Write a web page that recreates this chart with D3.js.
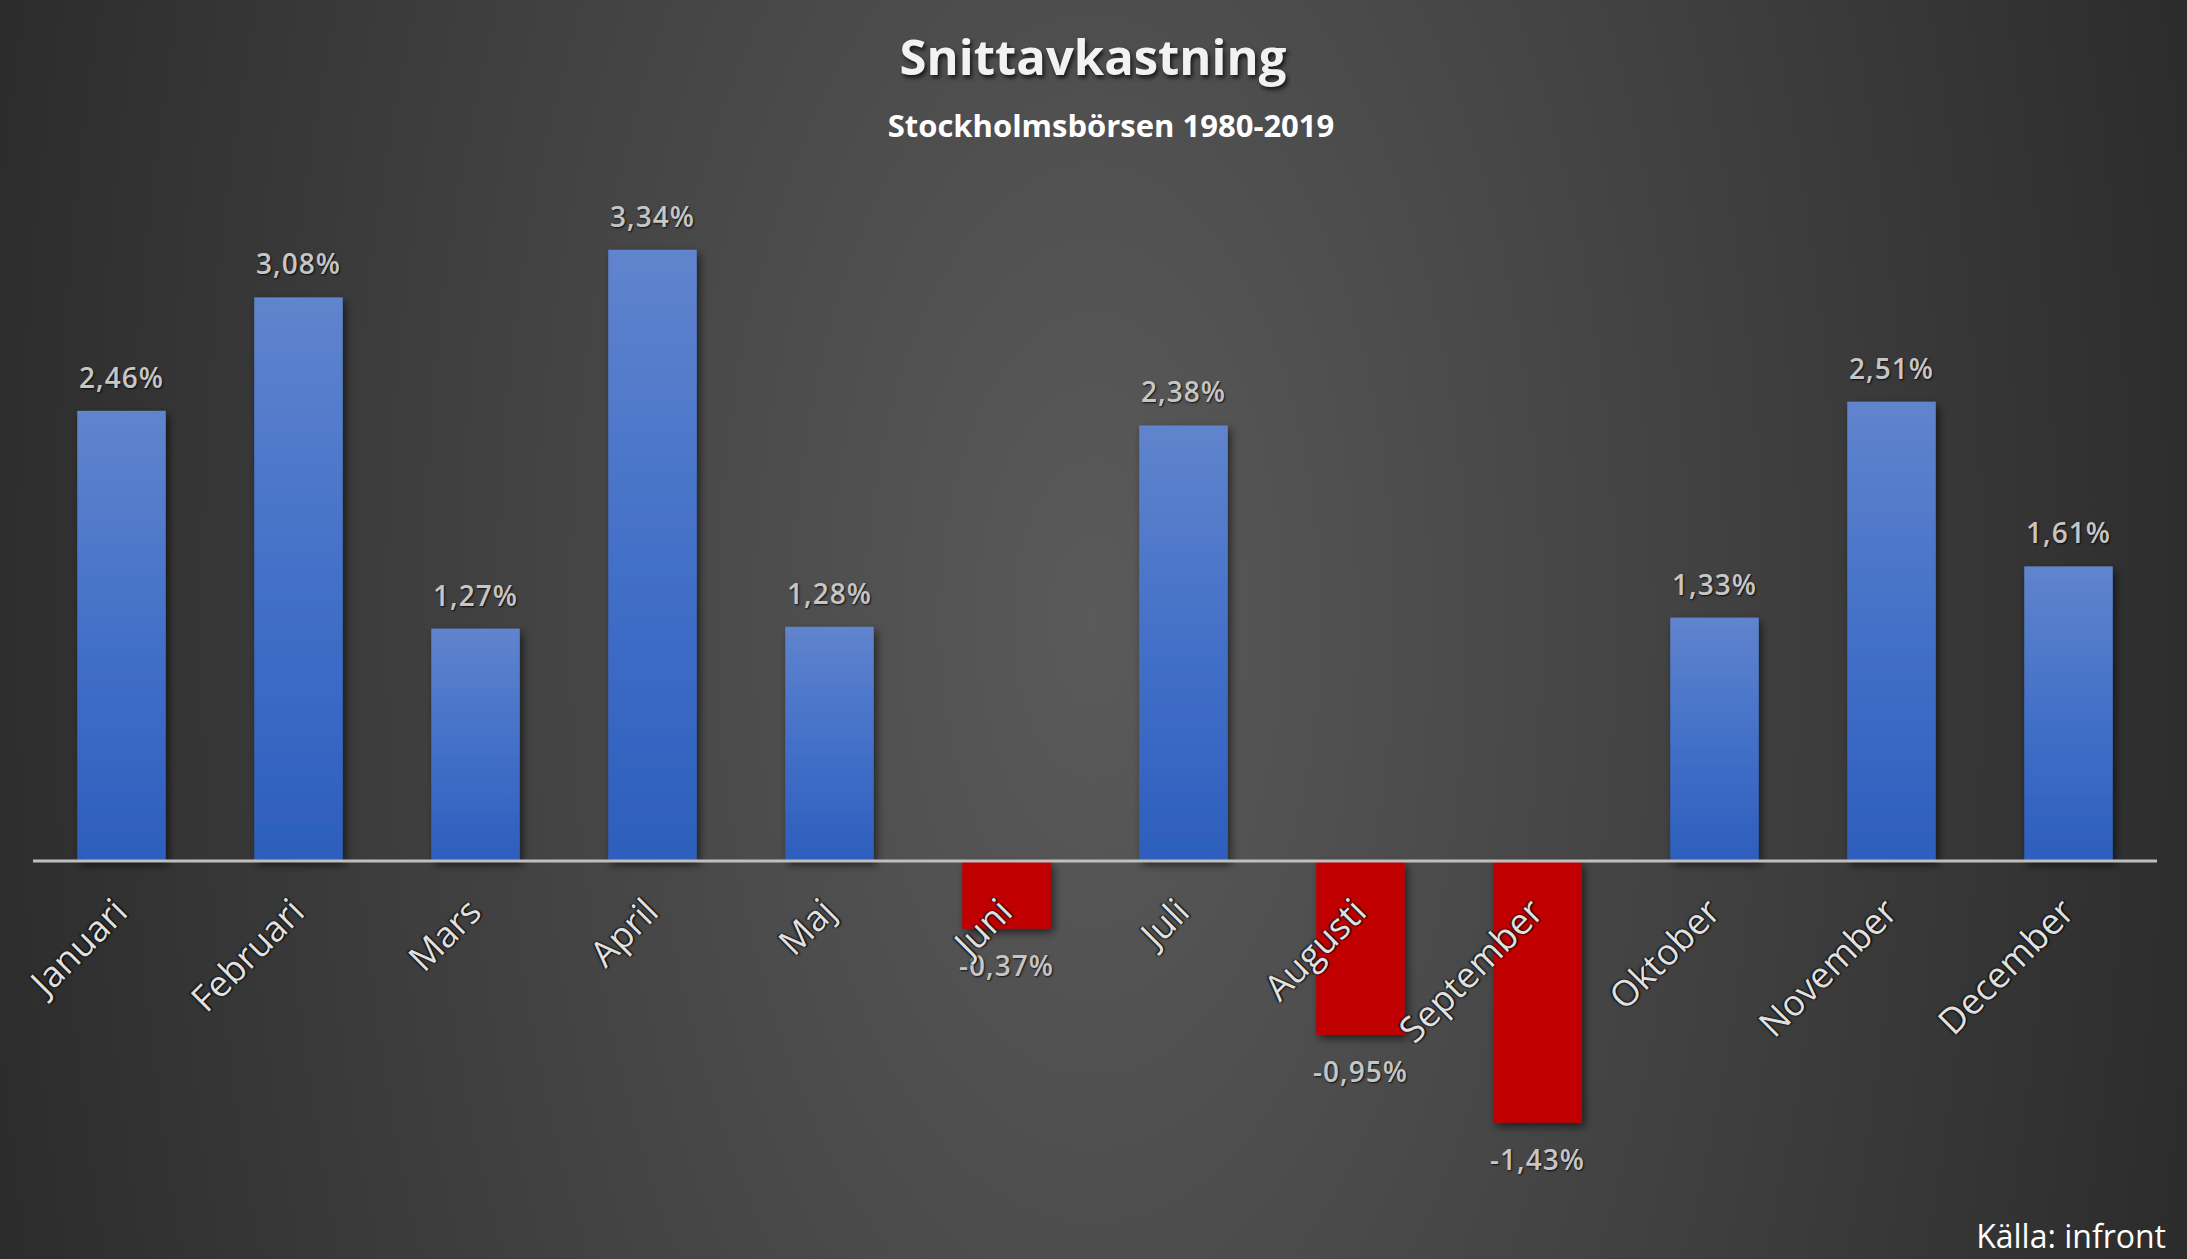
<!DOCTYPE html>
<meta charset="utf-8">
<script src="https://d3js.org/d3.v7.min.js"></script>
<style>
  body { margin: 0; background: #262626; }
  text { font-family: "Open Sans", "Noto Sans", sans-serif; }
</style>
<div id="my_dataviz"></div>
<script>

    // data
    var months = ["Januari", "Februari", "Mars", "April", "Maj", "Juni",
                  "Juli", "Augusti", "September", "Oktober", "November", "December"];
    var values = [2.46, 3.08, 1.27, 3.34, 1.28, -0.37, 2.38, -0.95, -1.43, 1.33, 2.51, 1.61];
    var title = "Snittavkastning";
    var subtitle = "Stockholmsbörsen 1980-2019";
    var source = "Källa: infront";

    // dimensions
    var width = 2187, height = 1259;

    var svg = d3.select("#my_dataviz")
      .append("svg")
        .attr("width", width)
        .attr("height", height);

    var defs = svg.append("defs");

    // background: dark vignette, lighter in the middle
    var bg = defs.append("radialGradient")
        .attr("id", "bg")
        .attr("gradientUnits", "userSpaceOnUse")
        .attr("cx", 0).attr("cy", 0).attr("r", 1)
        .attr("gradientTransform", "translate(1093,620) scale(1300,2600)");
    bg.append("stop").attr("offset", "0").attr("stop-color", "#5a5a5a");
    bg.append("stop").attr("offset", "1").attr("stop-color", "#252525");

    // blue bar fill
    var blue = defs.append("linearGradient")
        .attr("id", "blue")
        .attr("x1", 0).attr("y1", 0).attr("x2", 0).attr("y2", 1);
    blue.append("stop").attr("offset", "0").attr("stop-color", "#6084cd");
    blue.append("stop").attr("offset", "0.5").attr("stop-color", "#4370c8");
    blue.append("stop").attr("offset", "1").attr("stop-color", "#2d5ebd");

    var shadow = defs.append("filter")
        .attr("id", "shadow")
        .attr("x", "-20%").attr("y", "-20%").attr("width", "150%").attr("height", "150%");
    shadow.append("feDropShadow")
        .attr("dx", 3).attr("dy", 4).attr("stdDeviation", 4)
        .attr("flood-color", "#000").attr("flood-opacity", 0.55);

    svg.append("rect")
      .attr("width", width)
      .attr("height", height)
      .attr("fill", "url(#bg)");

    // scales
    var x = d3.scaleBand()
      .domain(months)
      .range([33, 2157])
      .paddingInner(0.5)
      .paddingOuter(0.25);

    var y = d3.scaleLinear()
      .domain([-2, 4])
      .range([1227, 129]);

    var sv = d3.formatLocale({decimal: ",", thousands: " ", grouping: [3],
                              currency: ["", " kr"], minus: "-"});
    var fmt = sv.format(".2f");

    // bars
    svg.append("g")
      .selectAll("rect")
      .data(values)
      .enter()
      .append("rect")
        .attr("x", function (d, i) { return x(months[i]); })
        .attr("y", function (d) { return y(Math.max(0, d)); })
        .attr("width", x.bandwidth())
        .attr("height", function (d) { return Math.abs(y(d) - y(0)); })
        .attr("fill", function (d) { return d < 0 ? "#c00000" : "url(#blue)"; })
        .attr("filter", "url(#shadow)");

    // zero line
    svg.append("line")
      .attr("x1", x.range()[0])
      .attr("x2", x.range()[1])
      .attr("y1", y(0))
      .attr("y2", y(0))
      .attr("stroke", "#bfbfbf")
      .attr("stroke-width", 3);

    // value labels
    svg.append("g")
      .selectAll("text")
      .data(values)
      .enter()
      .append("text")
        .attr("x", function (d, i) { return x(months[i]) + x.bandwidth() / 2; })
        .attr("y", function (d) { return d >= 0 ? y(d) - 23 : y(d) + 47; })
        .attr("text-anchor", "middle")
        .style("font-size", "28px")
        .style("font-weight", "600")
        .style("letter-spacing", "1px")
        .style("fill", "#c6c6c6")
        .style("text-shadow", "1px 1px 2px rgba(0,0,0,0.8)")
        .text(function (d) { return fmt(d) + "%"; });

    // month labels, tilted
    svg.append("g")
      .selectAll("text")
      .data(months)
      .enter()
      .append("text")
        .attr("transform", function (d) {
          return "translate(" + (x(d) + x.bandwidth() / 2 + 8) + "," + 914 + ") rotate(-45)";
        })
        .attr("text-anchor", "end")
        .style("font-size", "36px")
        .style("fill", "#e0e0e0")
        .style("text-shadow", "1px 1px 2px #000, -1px -1px 2px #111")
        .text(function (d) { return d; });

    // titles
    svg.append("text")
      .attr("x", 1093)
      .attr("y", 75)
      .attr("text-anchor", "middle")
      .style("font-size", "49px")
      .style("font-weight", "700")
      .style("fill", "#f2f2f2")
      .style("text-shadow", "2px 3px 4px rgba(0,0,0,0.7)")
      .text(title);

    svg.append("text")
      .attr("x", 1111)
      .attr("y", 137)
      .attr("text-anchor", "middle")
      .style("font-size", "31px")
      .style("font-weight", "700")
      .style("fill", "#ffffff")
      .text(subtitle);

    svg.append("text")
      .attr("x", 2166)
      .attr("y", 1248)
      .attr("text-anchor", "end")
      .style("font-size", "32px")
      .style("fill", "#ffffff")
      .text(source);

</script>
